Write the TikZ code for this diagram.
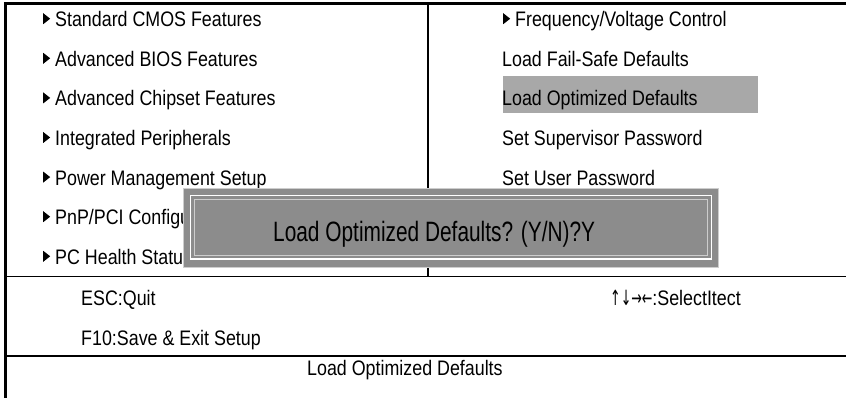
\documentclass[tikz,border=0pt]{standalone}
\usepackage{fontspec}
\setmainfont[FakeStretch=0.85]{Liberation Sans}
\newfontfamily\dlgfont[FakeStretch=0.745]{Liberation Sans}
\newfontfamily\arrowfont[FakeStretch=0.6]{DejaVu Sans}
\usepackage{tikz}
\usetikzlibrary{positioning}
\definecolor{hilite}{RGB}{168,168,168}
\definecolor{dlgfill}{RGB}{140,140,140}
\definecolor{dlgedge}{RGB}{205,205,205}
\newcommand{\tri}{\tikz[baseline=0pt]\fill (0pt,2.5pt)--(0pt,13.5pt)--(7pt,8pt)--cycle;\hspace{5pt}}

\begin{document}
\begin{tikzpicture}[x=1pt,y=-1pt,
    item/.style={anchor=base west,inner sep=0pt,font=\fontsize{21}{25}\selectfont}]
  \useasboundingbox (0,0) rectangle (846,398);
  % highlighted entry
  \fill[hilite] (503,76) rectangle (758,113.3);
  % left column
  \foreach \t [count=\i] in {Standard CMOS Features,Advanced BIOS Features,
      Advanced Chipset Features,Integrated Peripherals,Power Management Setup,
      {PnP/PCI Configurations},PC Health Status}
    { \node[item] (l\i) at (43,{26.7+39.6*(\i-1)}) {\tri\t}; }
  % right column
  \node[item] (r1) at (503,26.7) {\tri Frequency/Voltage Control};
  \node[item] (r2) at (502,66.3) {Load Fail-Safe Defaults};
  \node[item] (r3) at (502,105.9) {Load Optimized Defaults};
  \node[item] (r4) at (502,145.5) {Set Supervisor Password};
  \node[item] (r5) at (502,185.1) {Set User Password};
  % frame
  \draw[line width=1.2pt] (428,3) -- (428,276.7);
  \draw[line width=1.2pt] (5,276.7) -- (846,276.7);
  \draw[line width=1.2pt] (5,356) -- (846,356);
  \draw[line width=2.4pt] (3.8,3.6) -- (846,3.6);
  \draw[line width=2.6pt] (5.3,2.4) -- (5.3,398);
  % help lines
  \node[item] (esc) at (81,305) {ESC:Quit};
  \node[item] (f10) at (81,345.7) {F10:Save \& Exit Setup};
  \node[item] (keys) at (610,305) {{\arrowfont ↑↓→←}:SelectItect};
  \node[item] (status) at (307,375.7) {Load Optimized Defaults};
  % dialog
  \filldraw[fill=dlgfill,draw=dlgedge,line width=1pt] (183.5,188.5) rectangle (718.5,267);
  \draw[white,line width=1.2pt] (190.5,195.5) rectangle (711.5,259);
  \draw[dlgedge,line width=1.2pt] (194.5,199.3) rectangle (707.7,255.5);
  \node[item,font=\fontsize{28}{30}\dlgfont] (ask) at (273,241.7) {Load Optimized Defaults? (Y/N)?Y};
\end{tikzpicture}
\end{document}
